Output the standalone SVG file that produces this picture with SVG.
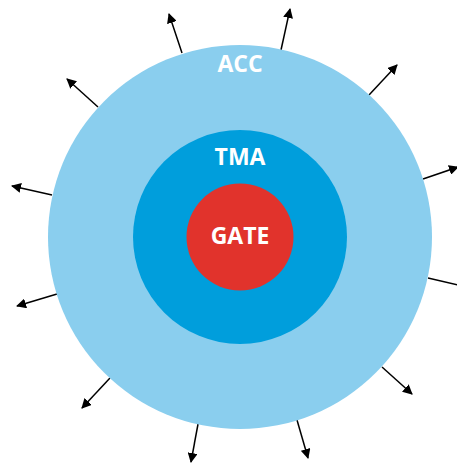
<svg xmlns="http://www.w3.org/2000/svg" width="457" height="463" viewBox="0 0 457 463">
<defs>
<marker id="ah" viewBox="0 0 10 10" refX="9" refY="5" markerWidth="10" markerHeight="10" markerUnits="userSpaceOnUse" orient="auto">
<path d="M0,0 L10,5 L0,10 Z" fill="#000"/>
</marker>
<style>
.c{stroke:#000;stroke-width:1.5;fill:none;marker-end:url(#ah)}
.t{font-family:"Open Sans","Noto Sans","DejaVu Sans",sans-serif;font-weight:bold;fill:#fff;text-anchor:middle;font-size:23px}
</style>
</defs>
<rect width="457" height="463" fill="#fff"/>
<g id="connectors">
<line class="c" x1="182" y1="53" x2="169" y2="14"/>
<line class="c" x1="281" y1="50" x2="290" y2="9"/>
<line class="c" x1="98" y1="107" x2="67" y2="79"/>
<line class="c" x1="52" y1="195" x2="12" y2="186"/>
<line class="c" x1="369" y1="95" x2="397" y2="65"/>
<line class="c" x1="423" y1="179" x2="458" y2="167"/>
<line class="c" x1="57" y1="294" x2="17" y2="306"/>
<line class="c" x1="110" y1="378" x2="82" y2="408"/>
<line class="c" x1="428" y1="278" x2="467" y2="287"/>
<line class="c" x1="382" y1="367" x2="412" y2="394"/>
<line class="c" x1="198" y1="424" x2="191" y2="462"/>
<line class="c" x1="297" y1="420" x2="308" y2="458"/>
</g>
<g id="acc">
<circle cx="240" cy="237" r="192" fill="#8ACEEE"/>
<text class="t" x="240" y="72">ACC</text>
</g>
<g id="tma">
<circle cx="240" cy="237" r="107" fill="#009EDC"/>
<text class="t" x="240" y="165">TMA</text>
</g>
<g id="gate">
<circle cx="240" cy="237" r="53.5" fill="#E1332C"/>
<text class="t" x="240" y="244">GATE</text>
</g>
</svg>
